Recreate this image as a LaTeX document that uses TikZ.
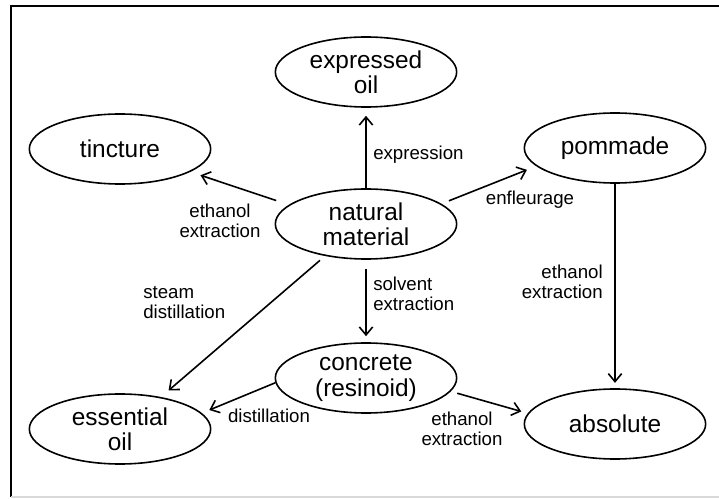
\documentclass[tikz,border=0pt]{standalone}
\usepackage{fontspec}
\setmainfont{Liberation Sans}
\usetikzlibrary{shapes.geometric,arrows.meta}

\tikzset{
  procnode/.style={ellipse,draw,line width=1.2pt,minimum width=136pt,minimum height=52.5pt,inner sep=0pt,align=center,font=\fontsize{18.3}{19}\selectfont},
  steplabel/.style={inner sep=0.75pt,font=\fontsize{14}{15}\selectfont},
  arr/.style={line width=1.2pt,-{Straight Barb[length=6pt,width=10pt,line width=1.2pt]}}
}

\begin{document}
\begin{tikzpicture}[x=0.75pt,y=0.75pt,yscale=-1,xscale=1]
\useasboundingbox (0,0) rectangle (719,499);

% Frame
\draw [line width=1.2pt] (11,497) -- (11,6) -- (722,6) ;
\draw [line width=1pt,color=black!15] (11,497) -- (722,497) ;

% Ellipse Node
\node [procnode] (expr) at (366,72) {expressed\\oil};
% Ellipse Node
\node [procnode] (tinc) at (120,149) {tincture};
% Ellipse Node
\node [procnode] (pomm) at (615,148) {pommade};
% Ellipse Node
\node [procnode] (nat) at (366,224) {natural\\material};
% Ellipse Node
\node [procnode] (conc) at (366,378) {concrete\\(resinoid)};
% Ellipse Node
\node [procnode] (ess) at (120,429) {essential\\oil};
% Ellipse Node
\node [procnode] (abs) at (615,424) {absolute};

% Text Node
\node [steplabel,anchor=west] (lexpr) at (372,155) {expression};
% Text Node
\node [steplabel,align=center] (ltinc) at (220,221) {ethanol\\extraction};
% Text Node
\node [steplabel] (lpomm) at (530,200) {enfleurage};
% Text Node
\node [steplabel,anchor=west,align=left] (lconc) at (372,294) {solvent\\extraction};
% Text Node
\node [steplabel,anchor=west,align=left] (lsteam) at (142,303) {steam\\distillation};
% Text Node
\node [steplabel] (ldist) at (269,416) {distillation};
% Text Node
\node [steplabel,align=center] (labs) at (462,429) {ethanol\\extraction};
% Text Node
\node [steplabel,anchor=east,align=right] (lpabs) at (604,282) {ethanol\\extraction};

% Connection
\draw [arr,shorten >=6pt] (nat.north) -- (expr.south) ;
% Connection
\draw [arr,shorten <=10pt,shorten >=8pt] (nat.166) -- (tinc.342) ;
% Connection
\draw [arr,shorten <=6pt,shorten >=7.5pt] (nat.15) -- (pomm.193) ;
% Connection
\draw [arr,shorten <=7pt,shorten >=4.5pt] (nat.south) -- (conc.north) ;
% Connection
\draw [arr,shorten <=5pt,shorten >=7.5pt] (nat.218) -- (ess.38) ;
% Connection
\draw [arr,shorten >=6pt] (conc.183) -- (ess.11) ;
% Connection
\draw [arr,shorten <=5pt,shorten >=5pt] (conc.351) -- (abs.173) ;
% Connection
\draw [arr,shorten >=4pt] (pomm.south) -- (abs.north) ;

\end{tikzpicture}
\end{document}
